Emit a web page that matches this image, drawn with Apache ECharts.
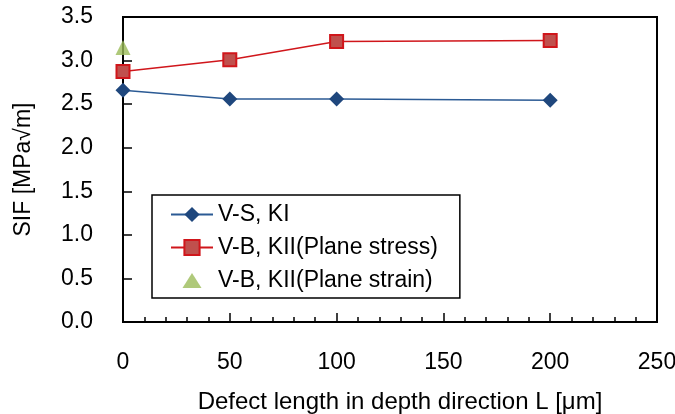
<!DOCTYPE html>
<html>
<head>
<meta charset="utf-8">
<script src="https://cdn.jsdelivr.net/npm/echarts@6/dist/echarts.min.js"></script>
<style>html,body{margin:0;padding:0;background:#fff;}#c{width:675px;height:414px;}</style>
</head>
<body>
<div id="c"></div>
<script>
const xValues = [0, 50, 100, 200];
const vsKI = [2.66, 2.56, 2.56, 2.545];
const vbKIIStress = [2.875, 3.01, 3.22, 3.23];
const vbKIIStrainX = [0];
const vbKIIStrain = [3.15];
const seriesNames = ['V-S, KI', 'V-B, KII(Plane stress)', 'V-B, KII(Plane strain)'];
const xAxisTitle = 'Defect length in depth direction L [μm]';
const yAxisTitle = 'SIF [MPa√m]';

const FONT = 'Liberation Sans, Arial, sans-serif';
const LEGEND_TRI = 'path://M0,0M42,19M21,2L30.5,17L11.5,17Z';
const chart = echarts.init(document.getElementById('c'), null, {renderer: 'canvas'});
const pair = (xs, ys) => xs.map((x, i) => [x, ys[i]]);
chart.setOption({
  animation: false,
  backgroundColor: '#fff',
  grid: {left: 123, top: 17, right: 18, bottom: 92, containLabel: false, outerBoundsMode: 'none',
    show: true, borderColor: '#000', borderWidth: 2, backgroundColor: 'transparent'},
  legend: {
    orient: 'vertical', left: 152, top: 195,
    padding: [8, 22, 6, 18], itemGap: 10, itemWidth: 42, itemHeight: 19,
    borderColor: '#000', borderWidth: 1.5, backgroundColor: '#fff',
    textStyle: {fontFamily: FONT, fontSize: 23, color: '#000'},
    data: [
      {name: seriesNames[0]},
      {name: seriesNames[1]},
      {name: seriesNames[2], icon: LEGEND_TRI}
    ]
  },
  xAxis: {
    type: 'value', min: 0, max: 250, interval: 50,
    name: xAxisTitle, nameLocation: 'middle', nameGap: 68,
    nameTextStyle: {fontFamily: FONT, fontSize: 24, color: '#000', padding: [0, 0, 0, 20]},
    axisLine: {show: true, lineStyle: {color: '#000', width: 2}},
    axisTick: {show: true, inside: true, length: 9, lineStyle: {color: '#000', width: 1.5}},
    minorTick: {show: true, splitNumber: 5, length: 5, lineStyle: {color: '#000', width: 1.5}},
    axisLabel: {fontFamily: FONT, fontSize: 23, color: '#000', margin: 29},
    splitLine: {show: false}
  },
  yAxis: {
    type: 'value', min: 0, max: 3.5, interval: 0.5,
    name: yAxisTitle, nameLocation: 'middle', nameGap: 88,
    nameTextStyle: {fontFamily: FONT, fontSize: 23, color: '#000'},
    axisLine: {show: true, lineStyle: {color: '#000', width: 2}},
    axisTick: {show: true, inside: true, length: 9, lineStyle: {color: '#000', width: 1.5}},
    axisLabel: {fontFamily: FONT, fontSize: 23, color: '#000', margin: 30, formatter: v => v.toFixed(1)},
    splitLine: {show: false}
  },
  series: [
    {
      name: seriesNames[0], type: 'line', data: pair(xValues, vsKI),
      symbol: 'diamond', symbolSize: 15, clip: false,
      lineStyle: {color: '#2B5A94', width: 1.5},
      itemStyle: {color: '#1F477D', borderColor: '#1F477D', borderWidth: 0}
    },
    {
      name: seriesNames[1], type: 'line', data: pair(xValues, vbKIIStress),
      symbol: 'rect', symbolSize: 13, clip: false,
      lineStyle: {color: '#D0161B', width: 1.5},
      itemStyle: {color: '#C0504D', borderColor: '#D0161B', borderWidth: 2}
    },
    {
      name: seriesNames[2], type: 'scatter', data: pair(vbKIIStrainX, vbKIIStrain),
      symbol: 'triangle', symbolSize: 15, clip: false, z: 5,
      itemStyle: {color: '#9BBB59'}
    }
  ]
});
</script>
</body>
</html>
